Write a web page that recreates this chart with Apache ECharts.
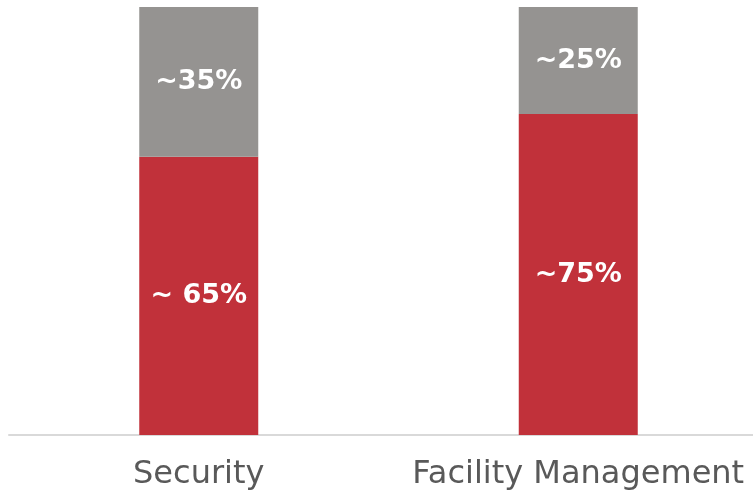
<!DOCTYPE html>
<html>
<head>
<meta charset="utf-8">
<script src="https://cdn.jsdelivr.net/npm/echarts@6/dist/echarts.min.js"></script>
<style>
  html, body { margin: 0; padding: 0; background: #fff; }
  #main { width: 753px; height: 494px; }
</style>
</head>
<body>
<div id="main"></div>
<script>
const categories = ["Security", "Facility Management"];
const redValues = [65, 75];
const grayValues = [35, 25];
const redLabels = ["~ 65%", "~75%"];
const grayLabels = ["~35%", "~25%"];

const chart = echarts.init(document.getElementById("main"));

const barLabel = function (texts) {
  return {
    show: true,
    position: "inside",
    color: "#fff",
    fontSize: 27,
    fontWeight: "bold",
    fontFamily: "DejaVu Sans",
    formatter: function (p) {
      return texts[p.dataIndex];
    },
  };
};

chart.setOption({
  animation: false,
  grid: {
    left: 9,
    width: 759,
    top: 7,
    bottom: 59,
    containLabel: false,
    outerBoundsMode: "none",
  },
  xAxis: {
    type: "category",
    data: categories,
    axisLine: { lineStyle: { color: "#d9d9d9", width: 2 } },
    axisTick: { show: false },
    axisLabel: {
      interval: 0,
      hideOverlap: false,
      color: "#595959",
      fontSize: 32,
      fontFamily: "DejaVu Sans",
      margin: 24,
    },
  },
  yAxis: {
    type: "value",
    min: 0,
    max: 100,
    show: false,
  },
  series: [
    {
      name: "main",
      type: "bar",
      stack: "total",
      barWidth: 119,
      data: redValues,
      itemStyle: { color: "#c1313a" },
      label: barLabel(redLabels),
    },
    {
      name: "rest",
      type: "bar",
      stack: "total",
      barWidth: 119,
      data: grayValues,
      itemStyle: { color: "#959391" },
      label: barLabel(grayLabels),
    },
  ],
});
</script>
</body>
</html>
